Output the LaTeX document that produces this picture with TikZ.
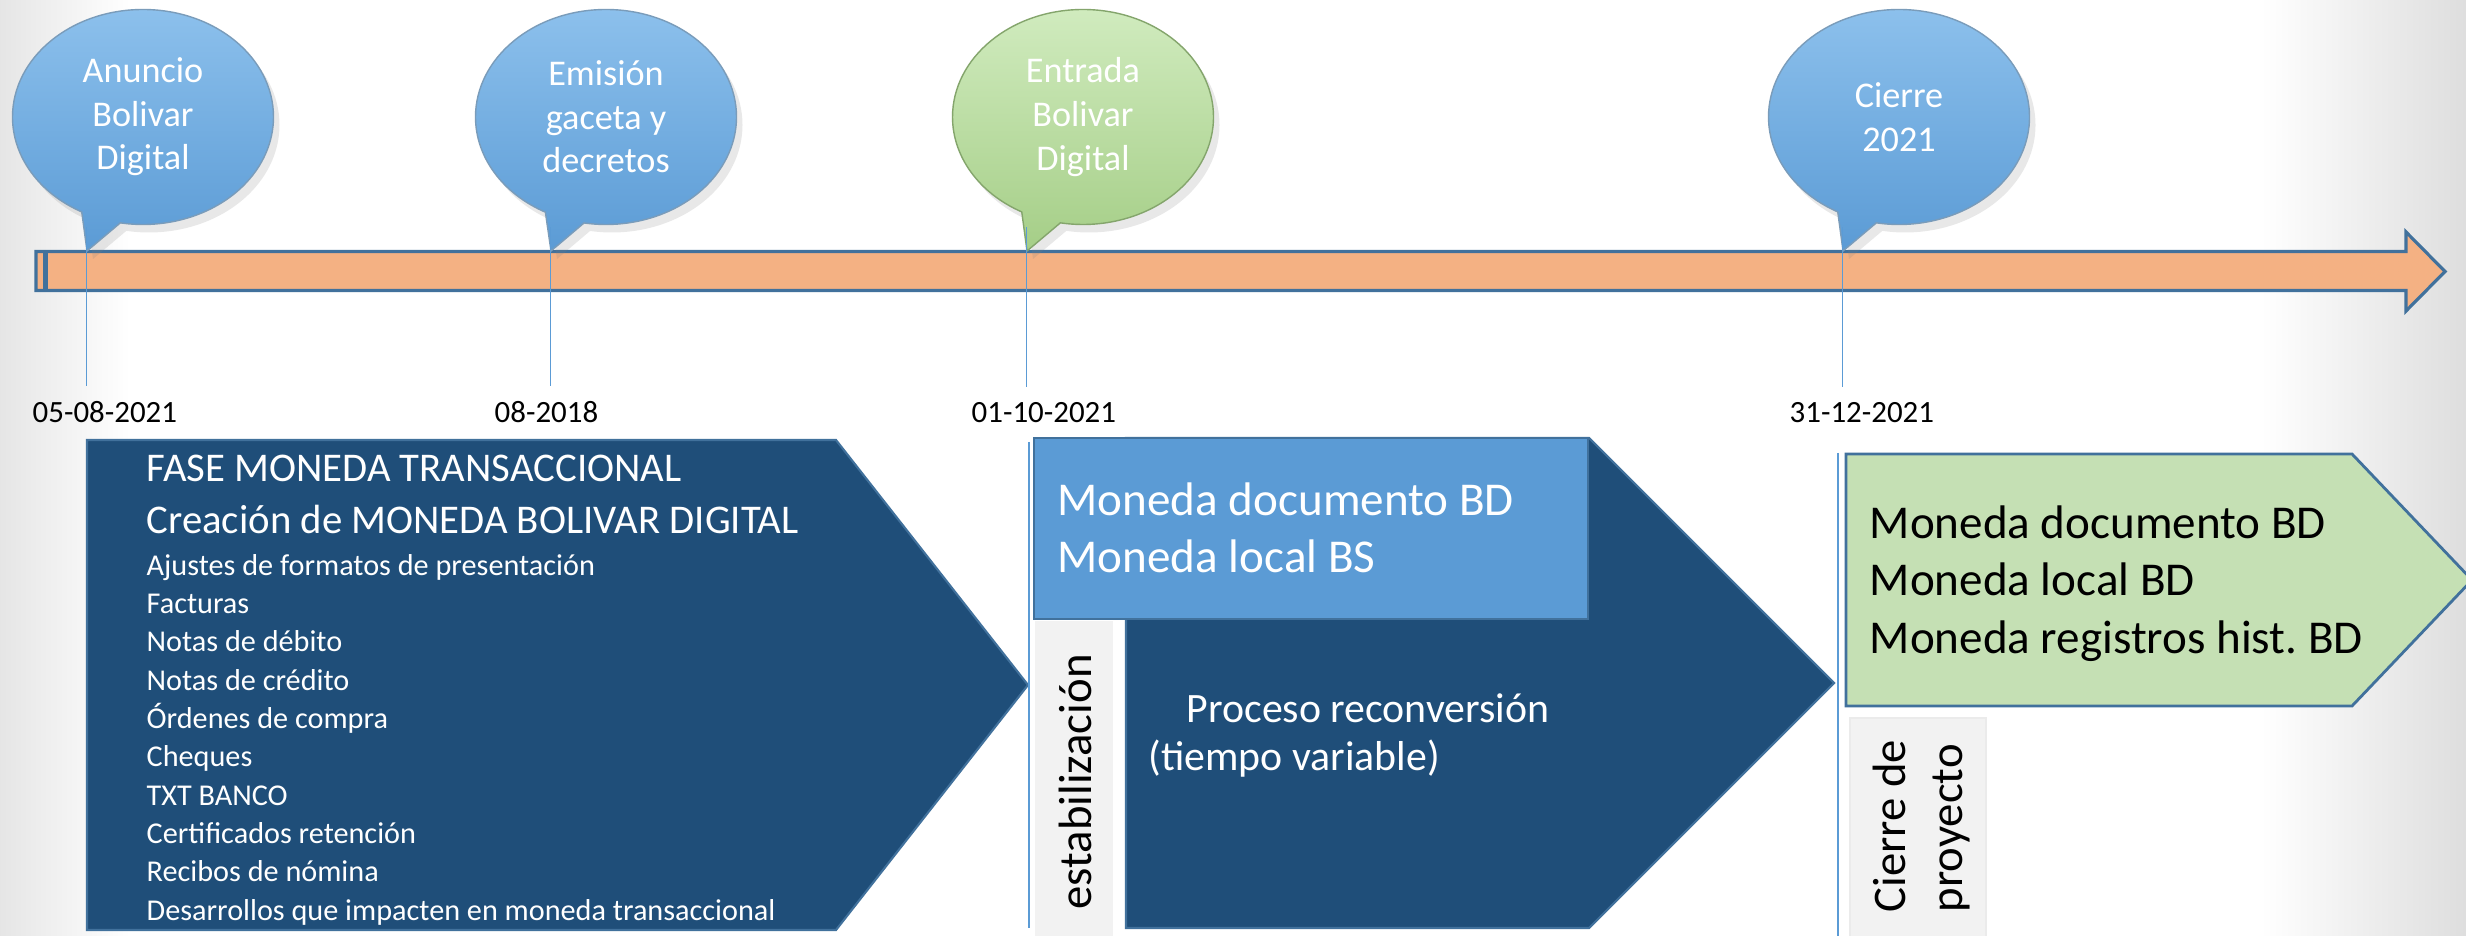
\documentclass[tikz,border=0pt]{standalone}
\usepackage{fontspec}
\setmainfont{Carlito}
\frenchspacing
\usetikzlibrary{shapes.callouts,shadows}

\definecolor{barfill}{RGB}{244,177,131}
\definecolor{edgeblue}{RGB}{65,113,156}
\definecolor{skyblue}{RGB}{91,155,213}
\definecolor{skytop}{RGB}{140,192,236}
\definecolor{navy}{RGB}{31,78,121}
\definecolor{leaf}{RGB}{197,224,180}
\definecolor{leafdark}{RGB}{165,206,135}
\definecolor{leaftop}{RGB}{208,235,190}
\definecolor{paper}{RGB}{242,242,242}

\begin{document}
\begin{tikzpicture}[
    bubble/.style={ellipse callout, callout pointer arc=18, minimum width=2.61cm, minimum height=2.15cm,
        inner sep=0pt, draw=edgeblue!70, line width=0.4pt, top color=skytop, bottom color=skyblue,
        text=white, align=center, font=\fontsize{10.3}{12.4}\selectfont,
        drop shadow={opacity=0.18, shadow xshift=0.6mm, shadow yshift=-0.8mm}},
    greenbubble/.style={bubble, draw=leafdark!80!black, top color=leaftop, bottom color=leafdark},
    datelabel/.style={anchor=base west, inner sep=0pt, font=\fontsize{8.8}{10.5}\selectfont},
    tickline/.style={draw=skyblue, line width=0.45pt},
    phase/.style={draw=edgeblue, line width=0.6pt},
    textblock/.style={anchor=base west, inner sep=0pt, align=left}
]
    \useasboundingbox (0,0) rectangle (24.66,-9.36);
    \fill[white] (0,0) rectangle (24.66,-9.36);
    \fill[left color=black!10, right color=white] (0,0) rectangle (1.3,-9.36);
    \fill[left color=white, right color=black!13] (22.6,0) rectangle (24.66,-9.36);

    % timeline arrow
    \draw[fill=barfill, draw=edgeblue, line width=0.9pt] (0.36,-2.515) -- (24.06,-2.515) -- (24.06,-2.32)
        -- (24.45,-2.715) -- (24.06,-3.11) -- (24.06,-2.905) -- (0.36,-2.905) -- cycle;
    \draw[edgeblue, line width=1.2pt] (0.455,-2.53) -- (0.455,-2.89);

    % hitos
    \coordinate (p1) at (0.87,-2.51);
    \coordinate (p2) at (5.51,-2.51);
    \coordinate (p3) at (10.27,-2.51);
    \coordinate (p4) at (18.43,-2.51);
    \node[bubble, callout absolute pointer={(p1)}] at (1.43,-1.17) (b1) {Anuncio\\Bolivar\\Digital};
    \node[bubble, callout absolute pointer={(p2)}] at (6.06,-1.17) (b2) {Emisión\\gaceta y\\decretos};
    \node[greenbubble, callout absolute pointer={(p3)}] at (10.83,-1.17) (b3) {Entrada\\Bolivar\\Digital};
    \node[bubble, callout absolute pointer={(p4)}] at (18.99,-1.17) (b4) {Cierre\\2021};

    \node[datelabel] at (0.32,-4.23) (d1) {05-08-2021};
    \node[datelabel] at (4.94,-4.23) (d2) {08-2018};
    \node[datelabel] at (9.71,-4.23) (d3) {01-10-2021};
    \node[datelabel] at (17.89,-4.23) (d4) {31-12-2021};

    \draw[tickline] ([yshift=2.5mm]b1.pointer) -- ([yshift=1.5mm]b1.pointer |- d1.north);
    \draw[tickline] ([yshift=2.5mm]b2.pointer) -- ([yshift=1.5mm]b2.pointer |- d2.north);
    \draw[tickline] ([yshift=2.5mm]b3.pointer) -- ([yshift=1.5mm]b3.pointer |- d3.north);
    \draw[tickline] ([yshift=2.5mm]b4.pointer) -- ([yshift=1.5mm]b4.pointer |- d4.north);

    % fase moneda transaccional
    \draw[phase, fill=navy] (0.87,-4.40) -- (8.36,-4.40) -- (10.28,-6.85) -- (8.36,-9.30) -- (0.87,-9.30) -- cycle;
    \node[textblock, text=white, font=\fontsize{11.6}{14.6}\selectfont] at (1.46,-5.33) (head)
        {FASE MONEDA TRANSACCIONAL\\Creación de MONEDA BOLIVAR DIGITAL};
    \node[textblock, text=white, font=\fontsize{8.6}{10.9}\selectfont] at (1.46,-9.20) (items)
        {Ajustes de formatos de presentación\\Facturas\\Notas de débito\\Notas de crédito\\Órdenes de compra\\
         Cheques\\TXT BANCO\\Certificados retención\\Recibos de nómina\\Desarrollos que impacten en moneda transaccional};

    % reconversion
    \draw[tickline] (10.29,-4.42) -- (10.29,-9.28);
    \draw[phase, fill=navy] (11.26,-4.38) -- (15.89,-4.38) -- (18.34,-6.83) -- (15.89,-9.28) -- (11.26,-9.28) -- cycle;
    \draw[draw=edgeblue, line width=0.8pt, fill=skyblue] (10.34,-4.38) rectangle (15.88,-6.19);
    \node[textblock, text=white, font=\fontsize{13.4}{16.5}\selectfont] at (10.57,-5.73) (doc)
        {Moneda documento BD\\Moneda local BS};
    \node[textblock, text=white, font=\fontsize{11.9}{13.4}\selectfont] at (11.48,-7.70) (proc)
        {\hspace*{3.8mm}Proceso reconversión\\(tiempo variable)};
    \fill[paper] (10.35,-6.21) rectangle (11.13,-9.40);
    \node[textblock, rotate=90, font=\fontsize{13.3}{16}\selectfont] at (10.91,-9.10) (estab) {estabilización};

    % cierre
    \draw[tickline] (18.38,-4.53) -- (18.38,-9.40);
    \draw[draw=edgeblue, line width=0.8pt, fill=leaf] (18.46,-4.54) -- (23.52,-4.54) -- (24.72,-5.80)
        -- (23.52,-7.06) -- (18.46,-7.06) -- cycle;
    \node[textblock, font=\fontsize{13.4}{16.3}\selectfont] at (18.69,-6.53) (fin)
        {Moneda documento BD\\Moneda local BD\\Moneda registros hist. BD};
    \draw[fill=paper, draw=black!8] (18.50,-7.18) rectangle (19.86,-9.40);
    \node[textblock, rotate=90, font=\fontsize{13.3}{16.2}\selectfont] at (19.62,-9.13) (cierre)
        {Cierre de\\proyecto};
\end{tikzpicture}
\end{document}
